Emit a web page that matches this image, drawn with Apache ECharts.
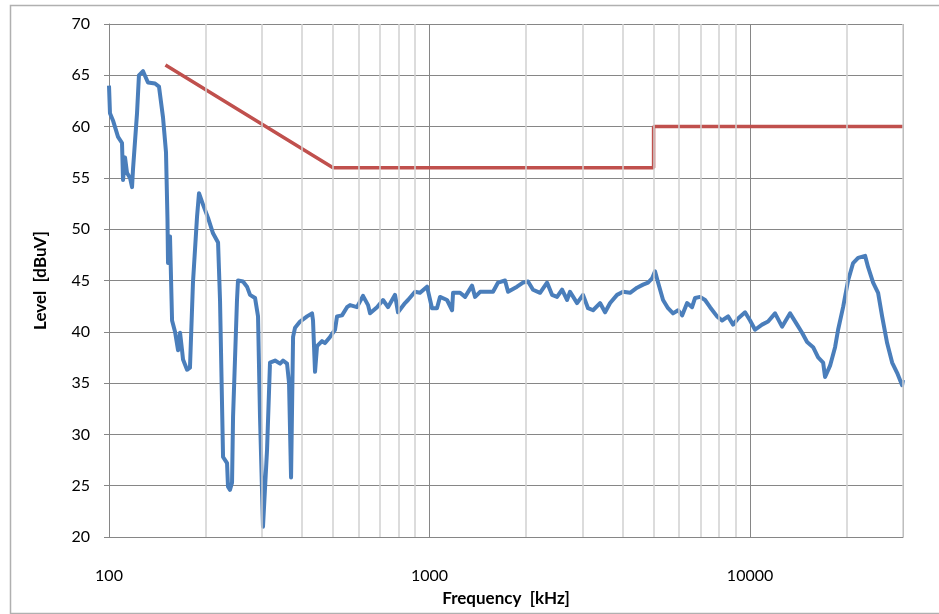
<!DOCTYPE html>
<html>
<head>
<meta charset="utf-8">
<script src="https://cdn.jsdelivr.net/npm/echarts@6/dist/echarts.min.js"></script>
<style>
html,body{margin:0;padding:0;background:#fff;}
#chart{width:939px;height:614px;}
</style>
</head>
<body>
<div id="chart"></div>
<script>
// Measured level (blue)
const measFreq = [100,100.7,102.9,106.7,109.8,110.6,112.2,113.8,116.3,118.0,118.8,122.3,124.0,127.7,132.3,139.2,143.2,147.4,150.6,152.2,152.8,155.0,157.3,160.7,164.2,166.6,169.0,170.2,175.2,178.9,182.8,188.2,190.9,196.5,203.7,211.1,218.9,222.0,226.9,233.5,235.1,238.5,242.0,243.8,250.8,252.6,261.8,269.5,275.4,285.5,291.7,295.9,302.3,311.2,317.9,329.6,341.7,349.1,359.3,364.5,369.8,375.2,380.6,394.5,414.8,429.9,433.0,439.3,445.7,461.9,472.0,489.3,507.2,514.5,533.3,552.8,564.9,593.9,620.1,643.0,652.3,685.9,715.9,742.1,780.4,797.3,838.5,856.7,901.0,934.0,982.2,1018,1055,1078,1134,1176,1184,1245,1291,1357,1387,1438,1469,1578,1636,1720,1758,1875,1957,2029,2103,2212,2326,2411,2499,2591,2685,2744,2886,3012,3122,3237,3404,3529,3659,3846,4015,4223,4441,4636,4805,4945,5052,5164,5352,5548,5751,5963,6137,6362,6592,6737,6982,7237,7503,7888,8176,8540,8851,9175,9647,10000,10366,10900,11381,11967,12585,13330,14017,14530,15062,15730,16306,16902,17140,17767,18417,18820,19510,20223,20963,21730,22851,23350,24204,25088,25822,26766,27745,28758,29812,30000];
const measLevel = [64.0,61.3,60.6,59.0,58.4,54.8,57.0,55.5,55.0,54.1,55.8,61.3,65.0,65.4,64.3,64.2,63.9,60.9,57.5,51.0,46.7,49.3,41.1,40.0,38.2,39.9,38.2,37.3,36.3,36.5,44.8,51.2,53.5,52.4,51.1,49.6,48.7,43.1,27.8,27.2,24.9,24.6,25.3,31.7,43.1,45.0,44.9,44.4,43.6,43.3,41.5,31.7,21.0,28.5,37.0,37.2,36.9,37.2,36.9,35.0,25.8,39.5,40.4,41.0,41.5,41.8,41.1,36.1,38.6,39.1,38.9,39.5,40.2,41.5,41.6,42.4,42.6,42.4,43.5,42.6,41.8,42.4,43.1,42.4,43.6,41.9,42.8,43.1,43.9,43.8,44.4,42.3,42.3,43.4,43.1,42.1,43.8,43.8,43.4,44.5,43.4,43.9,43.9,43.9,44.8,45.0,43.9,44.4,44.8,44.9,44.1,43.8,44.8,43.6,43.4,44.1,43.1,43.9,42.8,43.6,42.3,42.1,42.8,41.9,42.8,43.6,43.9,43.8,44.3,44.6,44.8,45.2,45.9,44.8,43.1,42.3,41.8,42.1,41.6,42.8,42.4,43.3,43.4,43.1,42.4,41.5,41.1,41.5,40.7,41.3,41.9,41.1,40.2,40.7,41.0,41.8,40.5,41.8,40.7,39.9,39.0,38.5,37.5,37.0,35.6,36.7,38.5,40.2,42.4,45.0,46.7,47.2,47.4,46.3,44.8,43.8,41.5,38.9,37.0,36.0,34.8,35.3];

// Limit line (red)
const limitFreq = [150, 500, 5000, 5000, 30000];
const limitLevel = [66, 56, 56, 60, 60];

// Minor vertical grid positions
const minorGridFreqs = [200,300,400,500,600,700,800,900,2000,3000,4000,5000,6000,7000,8000,9000,20000,30000];

// Axis settings
const yMin = 20, yMax = 70, yStep = 5;
const xMin = 100, xMax = 30000;

const FONT = 'Lato, "Open Sans", sans-serif';

const chart = echarts.init(document.getElementById('chart'), null, {renderer: 'canvas'});
chart.setOption({
  animation: false,
  backgroundColor: '#ffffff',
  grid: {left: 109, right: 36, top: 24, bottom: 77, containLabel: false, outerBoundsMode: 'none'},
  graphic: [{
    type: 'rect', left: 8, top: 3,
    shape: {width: 940, height: 608},
    style: {fill: 'none', stroke: '#b0b0b0', lineWidth: 1.5},
    silent: true, z: -1
  }],
  xAxis: {
    type: 'log', logBase: 10, min: xMin, max: xMax,
    name: 'Frequency  [kHz]', nameLocation: 'middle', nameGap: 53,
    nameTextStyle: {fontFamily: FONT, fontSize: 17, fontWeight: 'bold', color: '#000'},
    axisLine: {show: true, lineStyle: {color: '#868686', width: 1}},
    axisTick: {show: false},
    axisLabel: {fontFamily: FONT, fontSize: 16, color: '#000', margin: 31, showMaxLabel: false,
      formatter: v => String(Math.round(v))},
    splitLine: {show: true, lineStyle: {color: '#868686', width: 1}},
    minorTick: {show: false},
    minorSplitLine: {show: false}
  },
  yAxis: {
    type: 'value', min: yMin, max: yMax, interval: yStep,
    name: 'Level  [dBuV]', nameLocation: 'middle', nameGap: 60, nameRotate: 90,
    nameTextStyle: {fontFamily: FONT, fontSize: 17, fontWeight: 'bold', color: '#000'},
    axisLine: {show: true, lineStyle: {color: '#868686', width: 1}},
    axisTick: {show: true, inside: false, length: 5, lineStyle: {color: '#868686'}},
    axisLabel: {fontFamily: FONT, fontSize: 16, color: '#000', margin: 19},
    splitLine: {show: true, lineStyle: {color: '#868686', width: 1}}
  },
  series: [
    {
      type: 'line', name: 'grid', data: [],
      silent: true,
      markLine: {
        silent: true, symbol: 'none', label: {show: false},
        lineStyle: {color: '#d0d0d0', width: 1.5, type: 'solid'},
        data: minorGridFreqs.map(f => ({xAxis: f}))
      },
      z: 1
    },
    {
      type: 'line', name: 'Limit',
      data: limitFreq.map((f, i) => [f, limitLevel[i]]),
      showSymbol: false, symbol: 'none',
      lineStyle: {color: '#c0504d', width: 3.5},
      z: 3
    },
    {
      type: 'line', name: 'Level',
      data: measFreq.map((f, i) => [f, measLevel[i]]),
      showSymbol: false, symbol: 'none',
      lineStyle: {color: '#4a7ebb', width: 4, join: 'round'},
      z: 4
    }
  ]
});
</script>
</body>
</html>
